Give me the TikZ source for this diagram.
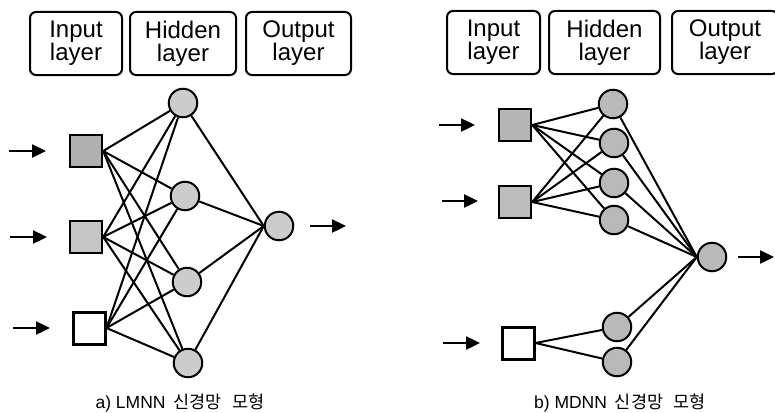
\documentclass[tikz,border=0pt]{standalone}
\usepackage{fontspec}
\setmainfont{Liberation Sans}
\newfontfamily\kr{Noto Sans CJK KR}
\usetikzlibrary{arrows.meta}
\begin{document}
\begin{tikzpicture}[x=1pt,y=-1pt,
  lbox/.style={draw, line width=2pt, rounded corners=6pt, inner sep=0pt,
    minimum height=63pt, align=center, font=\fontsize{24}{23}\selectfont},
  insq/.style={draw, line width=2.4pt, rectangle, minimum size=32pt, inner sep=0pt},
  neur/.style={draw, line width=2pt, circle, minimum size=28.5pt, inner sep=0pt},
  conn/.style={line width=2pt},
  inarrow/.style={line width=2.4pt, -{Triangle[length=14pt,width=13pt]}},
  captext/.style={font=\fontsize{17.5}{20}\selectfont}
]
\useasboundingbox (0,0) rectangle (775,412);
\clip (0,0) rectangle (775,412);

% ---------------- left panel ----------------
\node[lbox, minimum width=92pt]  (LbIn)  at (76,43.5)  {Input\\layer};
\node[lbox, minimum width=106pt] (LbHid) at (183,43.5) {Hidden\\layer};
\node[lbox, minimum width=105pt] (LbOut) at (298.5,43.5) {Output\\layer};

\node[insq, fill=gray!62] (La1) at (86,151) {};
\node[insq, fill=gray!45] (La2) at (86,237) {};
\node[insq, fill=white, line width=3pt] (La3) at (89,328) {};

\node[neur, fill=gray!40] (Lh1) at (183,103) {};
\node[neur, fill=gray!40] (Lh2) at (185,196) {};
\node[neur, fill=gray!40] (Lh3) at (187,282) {};
\node[neur, fill=gray!40] (Lh4) at (188,363) {};

\node[neur, fill=gray!40] (Lo) at (279,226) {};

\foreach \i in {1,2,3}
  \foreach \j in {1,2,3,4}
    \draw[conn] (La\i.east) -- (Lh\j);
\foreach \j in {1,2,3,4}
  \draw[conn] (Lh\j) -- (Lo.west);

\coordinate (LaS1) at (9,151);  \coordinate (LaE1) at (46,151);
\coordinate (LaS2) at (10,237); \coordinate (LaE2) at (47,237);
\coordinate (LaS3) at (13,328); \coordinate (LaE3) at (50,328);
\coordinate (LoS) at (310,226); \coordinate (LoE) at (346,226);
\foreach \i in {1,2,3} \draw[inarrow] (LaS\i) -- (LaE\i);
\draw[inarrow] (LoS) -- (LoE);

\node[captext] (Lcap) at (180,403) {a) LMNN\hspace{0.45em}{\kr 신경망}\hspace{0.6em}{\kr 모형}};

% ---------------- right panel ----------------
\node[lbox, minimum width=93pt]  (RbIn)  at (493.5,42.5) {Input\\layer};
\node[lbox, minimum width=111pt] (RbHid) at (604.5,42.5) {Hidden\\layer};
\node[lbox, minimum width=106pt] (RbOut) at (725,42.5) {Output\\layer};

\node[insq, fill=gray!58] (Ra1) at (515,125) {};
\node[insq, fill=gray!52] (Ra2) at (515,202) {};
\node[insq, fill=white, line width=3pt] (Ra3) at (518,343) {};

\node[neur, fill=gray!55] (Rh1) at (613,104) {};
\node[neur, fill=gray!55] (Rh2) at (614,143) {};
\node[neur, fill=gray!55] (Rh3) at (614,183) {};
\node[neur, fill=gray!55] (Rh4) at (614,220) {};
\node[neur, fill=gray!55] (Rh5) at (617,327) {};
\node[neur, fill=gray!55] (Rh6) at (617,362) {};

\node[neur, fill=gray!55] (Ro) at (712,257) {};

\foreach \i in {1,2}
  \foreach \j in {1,2,3,4}
    \draw[conn] (Ra\i.east) -- (Rh\j);
\foreach \j in {5,6}
  \draw[conn] (Ra3.east) -- (Rh\j);
\foreach \j in {1,...,6}
  \draw[conn] (Rh\j) -- (Ro.west);

\coordinate (RaS1) at (439,125); \coordinate (RaE1) at (475,125);
\coordinate (RaS2) at (442,201); \coordinate (RaE2) at (478,201);
\coordinate (RaS3) at (443,343); \coordinate (RaE3) at (480,343);
\coordinate (RoS) at (738,257);  \coordinate (RoE) at (774,257);
\foreach \i in {1,2,3} \draw[inarrow] (RaS\i) -- (RaE\i);
\draw[inarrow] (RoS) -- (RoE);

\node[captext] (Rcap) at (620,403) {b) MDNN\hspace{0.45em}{\kr 신경망}\hspace{0.6em}{\kr 모형}};
\end{tikzpicture}
\end{document}
